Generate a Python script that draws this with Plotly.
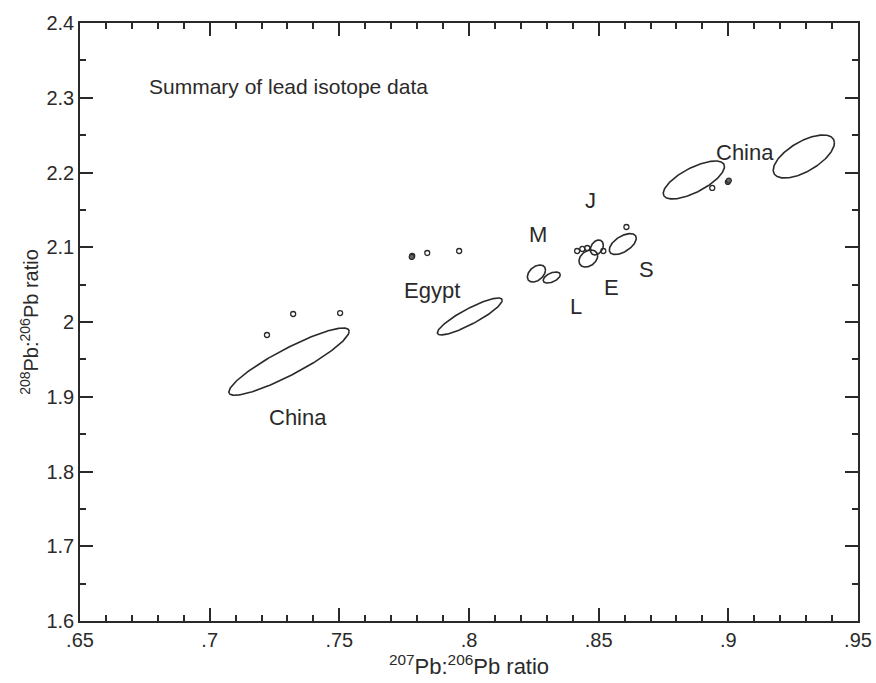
import numpy as np
import plotly.graph_objects as go

# Isotope-ratio confidence ellipses: centre, half-ranges and correlation
ell_name = ["China A", "Egypt", "M1", "M2", "L", "J", "S", "China B", "China C"]
ell_cx = [0.7306, 0.8003, 0.8260, 0.8319, 0.8460, 0.8493, 0.8593, 0.8867, 0.9291]
ell_cy = [1.9470, 2.0074, 2.0649, 2.0595, 2.0850, 2.0997, 2.1043, 2.1900, 2.2214]
ell_ax = [0.0232, 0.0125, 0.0035, 0.0033, 0.0036, 0.0025, 0.0052, 0.0118, 0.0118]
ell_ay = [0.0450, 0.0247, 0.0114, 0.0074, 0.0114, 0.0100, 0.0140, 0.0254, 0.0288]
ell_rho = [0.90, 0.88, 0.40, 0.50, 0.30, 0.30, 0.55, 0.70, 0.63]

# Individual analyses (open circles)
pt_x = [0.7221, 0.7322, 0.7503, 0.7781, 0.7839, 0.7962,
        0.8417, 0.8437, 0.8456, 0.8518, 0.8607, 0.8938]
pt_y = [1.9826, 2.0107, 2.0120, 2.0883, 2.0923, 2.0950,
        2.0950, 2.0977, 2.0990, 2.0950, 2.1271, 2.1793]
# Darker analyses
dk_x = [0.7779, 0.8998, 0.9002]
dk_y = [2.0870, 2.1873, 2.1893]

# Region labels
lab_text = ["China", "China", "Egypt", "M", "J", "L", "E", "S"]
lab_x = [0.7341, 0.9066, 0.7858, 0.8267, 0.8468, 0.8414, 0.8549, 0.8684]
lab_y = [1.8716, 2.2261, 2.0428, 2.1177, 2.1632, 2.0214, 2.0468, 2.0696]

x_ticks = [0.65, 0.70, 0.75, 0.80, 0.85, 0.90, 0.95]
x_ticktext = [".65", ".7", ".75", ".8", ".85", ".9", ".95"]
y_ticks = [1.6, 1.7, 1.8, 1.9, 2.0, 2.1, 2.2, 2.3, 2.4]
y_ticktext = ["1.6", "1.7", "1.8", "1.9", "2", "2.1", "2.2", "2.3", "2.4"]

ink = "#2a2a2a"
font_family = "Liberation Sans, Arial, sans-serif"

fig = go.Figure()

t = np.linspace(0, 2 * np.pi, 241)
for name, cx, cy, ax, ay, rho in zip(ell_name, ell_cx, ell_cy, ell_ax, ell_ay, ell_rho):
    ex = cx + ax * np.cos(t)
    ey = cy + ay * (rho * np.cos(t) + np.sqrt(1 - rho ** 2) * np.sin(t))
    fig.add_trace(go.Scatter(x=ex, y=ey, mode="lines", name=name,
                             line=dict(color=ink, width=1.6),
                             hoverinfo="skip", showlegend=False))

fig.add_trace(go.Scatter(x=pt_x, y=pt_y, mode="markers", showlegend=False,
                         marker=dict(symbol="circle-open", size=5,
                                     color=ink, line=dict(width=1.3, color=ink))))
fig.add_trace(go.Scatter(x=dk_x, y=dk_y, mode="markers", showlegend=False,
                         marker=dict(symbol="circle", size=5, color="#666",
                                     line=dict(width=1.2, color=ink))))

for txt, lx, ly in zip(lab_text, lab_x, lab_y):
    fig.add_annotation(x=lx, y=ly, xref="x", yref="y", text=txt, showarrow=False,
                       font=dict(size=22, color=ink, family=font_family))

fig.add_annotation(x=(147 - 80) / 778, y=1 - (86 - 23) / 598, xref="paper", yref="paper",
                   xanchor="left", yanchor="middle", showarrow=False,
                   text="Summary of lead isotope data",
                   font=dict(size=21, color=ink, family=font_family))

axis_common = dict(showline=True, linecolor=ink, linewidth=1.6, mirror="allticks",
                   ticks="inside", tickcolor=ink, tickwidth=1.5, ticklen=13,
                   showgrid=False, zeroline=False, automargin=False,
                   tickfont=dict(size=20, color=ink, family=font_family))

fig.update_xaxes(range=[0.65, 0.95], tickmode="array", tickvals=x_ticks,
                 ticktext=x_ticktext,
                 minor=dict(dtick=0.01, ticks="inside", ticklen=6, tickwidth=1.5,
                            tickcolor=ink, showgrid=False),
                 title=dict(text="<sup>207</sup>Pb:<sup>206</sup>Pb ratio",
                            font=dict(size=22, color=ink, family=font_family),
                            standoff=2),
                 **axis_common)
fig.update_yaxes(range=[1.6, 2.4], tickmode="array", tickvals=y_ticks,
                 ticktext=y_ticktext,
                 minor=dict(dtick=0.05, ticks="inside", ticklen=6, tickwidth=1.5,
                            tickcolor=ink, showgrid=False),
                 title=dict(text="<sup>208</sup>Pb:<sup>206</sup>Pb ratio",
                            font=dict(size=20, color=ink, family=font_family),
                            standoff=2),
                 **axis_common)

fig.update_layout(width=876, height=683, plot_bgcolor="white", paper_bgcolor="white",
                  margin=dict(l=80, r=18, t=23, b=62), showlegend=False)

fig.write_html("out.html")
